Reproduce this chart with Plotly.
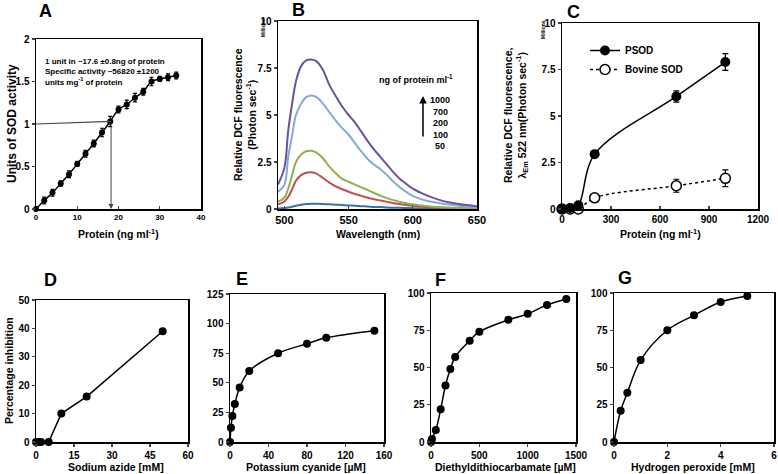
import plotly.graph_objects as go

W, H = 778, 474
FONT = "Liberation Sans"

# ---------------- Data ----------------
# Panel A: SOD activity vs protein
a_protein = [0, 2, 4, 6, 8, 10, 12, 14, 16, 18, 20, 22, 24, 26, 28, 30, 32, 34]
a_units = [0, 0.10, 0.19, 0.30, 0.41, 0.53, 0.65, 0.77, 0.90, 1.03, 1.17, 1.23, 1.31, 1.38, 1.50, 1.53, 1.55, 1.57]
a_err = [0.01, 0.04, 0.04, 0.03, 0.04, 0.03, 0.04, 0.04, 0.05, 0.06, 0.04, 0.05, 0.05, 0.04, 0.05, 0.03, 0.04, 0.04]
a_unit_protein = 18.2
a_unit_level = [1.0, 1.03]

# Panel B: emission spectra (millions)
b_wavelength = [495, 500, 503, 506, 509, 513, 517, 521, 525, 530, 535, 540, 545, 550, 555,
                560, 565, 570, 575, 580, 585, 590, 595, 600, 610, 620, 630, 640, 650]
b_1000 = [1.3, 2.2, 4.2, 5.6, 6.8, 7.6, 7.9, 7.95, 7.85, 7.4, 6.6, 6.0, 5.45, 5.0, 4.6,
          4.1, 3.6, 3.15, 2.75, 2.35, 1.95, 1.6, 1.33, 1.08, 0.75, 0.5, 0.33, 0.22, 0.15]
b_700 = [0.9, 1.3, 2.8, 3.9, 5.0, 5.6, 5.95, 6.04, 5.95, 5.6, 5.15, 4.7, 4.3, 3.95, 3.5,
         3.05, 2.65, 2.35, 2.1, 1.8, 1.45, 1.15, 0.9, 0.7, 0.45, 0.32, 0.22, 0.15, 0.1]
b_200 = [0.4, 0.6, 1.1, 1.8, 2.5, 2.9, 3.07, 3.1, 3.0, 2.7, 2.25, 1.9, 1.6, 1.45, 1.3,
         1.15, 1.0, 0.85, 0.7, 0.58, 0.47, 0.38, 0.31, 0.25, 0.16, 0.1, 0.07, 0.05, 0.04]
b_100 = [0.25, 0.4, 0.65, 1.05, 1.5, 1.8, 1.93, 1.95, 1.88, 1.65, 1.4, 1.2, 1.05, 0.92, 0.8,
         0.7, 0.6, 0.52, 0.45, 0.38, 0.31, 0.26, 0.21, 0.17, 0.11, 0.07, 0.05, 0.03, 0.02]
b_50 = [0.02, 0.05, 0.08, 0.12, 0.17, 0.22, 0.26, 0.28, 0.28, 0.27, 0.25, 0.23, 0.21, 0.19, 0.17,
        0.15, 0.13, 0.11, 0.1, 0.08, 0.07, 0.06, 0.05, 0.04, 0.03, 0.02, 0.02, 0.01, 0.01]
b_series = [("50", b_50, "#3D6FB0"), ("100", b_100, "#C0504D"), ("200", b_200, "#8FB04E"),
            ("700", b_700, "#84AADB"), ("1000", b_1000, "#6A539E")]
b_labels = ["1000", "700", "200", "100", "50"]

# Panel C: fluorescence at 522 nm vs protein (millions)
c_protein = [0, 50, 100, 200, 700, 1000]
c_psod = [0, 0.05, 0.2, 2.95, 6.05, 7.9]
c_psod_err = [0, 0, 0, 0.05, 0.3, 0.45]
c_bovine = [0, 0, 0, 0.6, 1.25, 1.65]
c_bovine_err = [0, 0, 0, 0.1, 0.35, 0.45]

# Panels D-G: inhibition
d_azide = [0, 1, 2, 5, 10, 20, 50]
d_inh = [0, 0, 0, 0, 10, 16, 39]
e_kcn = [0, 1, 2.5, 5, 10, 20, 50, 80, 100, 150]
e_inh = [0, 12, 22, 32, 46, 60, 75, 83, 88, 94]
f_ddc = [0, 10, 50, 100, 150, 200, 250, 400, 500, 800, 1000, 1200, 1400]
f_inh = [0, 2, 8, 22, 38, 49, 57, 68, 74, 82, 86, 92, 96]
g_h2o2 = [0, 0.25, 0.5, 1, 2, 3, 4, 5]
g_inh = [0, 21, 33, 55, 75, 85, 94, 98]


def px(x):
    return x / W


def py(y):
    return 1 - y / H


fig = go.Figure()
layout = dict(width=W, height=H, margin=dict(l=0, r=0, t=0, b=0, pad=0, autoexpand=False),
              autosize=False, paper_bgcolor="white", plot_bgcolor="white",
              font=dict(family=FONT, color="black"), showlegend=True)


def tf(size):
    return dict(family=FONT, size=size, color="black", weight="bold")


def axes(i, xpx, ypx, xr, yr, xt, yt, ytext=None, xfont=10, yfont=10, xticks="outside"):
    sx = "" if i == 1 else str(i)
    layout["xaxis" + sx] = dict(domain=[px(xpx[0]), px(xpx[1])], range=xr, anchor="y" + sx,
                                tickvals=xt, ticks=xticks, ticklen=3, tickwidth=1.2,
                                showline=True, linewidth=1.5, linecolor="black", mirror=True,
                                showgrid=False, zeroline=False, tickfont=tf(xfont), fixedrange=True,
                                automargin=False)
    yd = dict(domain=[py(ypx[1]), py(ypx[0])], range=yr, anchor="x" + sx,
              tickvals=yt, ticks="outside", ticklen=3, tickwidth=1.2,
              showline=True, linewidth=1.5, linecolor="black", mirror=True,
              showgrid=False, zeroline=False, tickfont=tf(yfont), fixedrange=True,
              automargin=False)
    if ytext:
        yd["ticktext"] = ytext
    layout["yaxis" + sx] = yd
    return "x" + sx, "y" + sx


# A
xa, ya = axes(1, (36, 201), (39, 209), [0, 40], [0, 2], [0, 10, 20, 30, 40],
              [0, 0.5, 1, 1.5, 2], ["0", "0.5", "1", "1.5", "2"], xfont=8, yfont=10, xticks="inside")
fig.add_trace(go.Scatter(x=a_protein, y=a_units, mode="lines+markers", xaxis=xa, yaxis=ya,
                         line=dict(color="black", width=1.5, shape="spline"),
                         marker=dict(color="black", size=6),
                         error_y=dict(type="data", array=a_err, color="black", thickness=1.2, width=2),
                         cliponaxis=False, showlegend=False))
# B
xb, yb = axes(2, (278, 477), (21, 209), [495, 650], [0, 10], [500, 550, 600, 650],
              [0, 2.5, 5, 7.5, 10], ["0", "2.5", "5", "7.5", "10"], xfont=11, yfont=10, xticks="inside")
for name, vals, col in b_series:
    fig.add_trace(go.Scatter(x=b_wavelength, y=vals, mode="lines", xaxis=xb, yaxis=yb,
                             line=dict(color=col, width=2, shape="spline"), showlegend=False))
# C
xc, yc = axes(3, (562, 758), (23, 209), [0, 1200], [0, 10], [0, 300, 600, 900, 1200],
              [0, 2.5, 5, 7.5, 10], ["0", "2.5", "5", "7.5", "10"], xticks="inside")
fig.add_trace(go.Scatter(x=c_protein, y=c_bovine, mode="lines+markers", xaxis=xc, yaxis=yc,
                         name="Bovine SOD", legendrank=2,
                         line=dict(color="black", width=1.5, dash="dot", shape="spline"),
                         marker=dict(color="white", size=10, line=dict(color="black", width=1.5)),
                         error_y=dict(type="data", array=c_bovine_err, color="black", thickness=1.2, width=3),
                         cliponaxis=False))
fig.add_trace(go.Scatter(x=c_protein, y=c_psod, mode="lines+markers", xaxis=xc, yaxis=yc,
                         name="PSOD", legendrank=1,
                         line=dict(color="black", width=1.5, shape="spline"),
                         marker=dict(color="black", size=10),
                         error_y=dict(type="data", array=c_psod_err, color="black", thickness=1.2, width=3),
                         cliponaxis=False))
# D
xd, yd = axes(4, (36, 188), (300, 442), [0, 60], [0, 50], [0, 15, 30, 45, 60], [0, 10, 20, 30, 40, 50])
fig.add_trace(go.Scatter(x=d_azide, y=d_inh, mode="lines+markers", xaxis=xd, yaxis=yd,
                         line=dict(color="black", width=1.5), marker=dict(color="black", size=8),
                         cliponaxis=False, showlegend=False))
# E
xe, ye = axes(5, (230, 384), (294, 442), [0, 160], [0, 125], [0, 40, 80, 120, 160], [0, 25, 50, 75, 100, 125])
fig.add_trace(go.Scatter(x=e_kcn, y=e_inh, mode="lines+markers", xaxis=xe, yaxis=ye,
                         line=dict(color="black", width=1.5, shape="spline"), marker=dict(color="black", size=8),
                         cliponaxis=False, showlegend=False))
# F
xf, yf = axes(6, (431, 576), (293, 442), [0, 1500], [0, 100], [0, 500, 1000, 1500], [0, 25, 50, 75, 100])
fig.add_trace(go.Scatter(x=f_ddc, y=f_inh, mode="lines+markers", xaxis=xf, yaxis=yf,
                         line=dict(color="black", width=1.5, shape="spline"), marker=dict(color="black", size=8),
                         cliponaxis=False, showlegend=False))
# G
xg, yg = axes(7, (614, 774), (293, 442), [0, 6], [0, 100], [0, 2, 4, 6], [0, 25, 50, 75, 100])
fig.add_trace(go.Scatter(x=g_h2o2, y=g_inh, mode="lines+markers", xaxis=xg, yaxis=yg,
                         line=dict(color="black", width=1.5, shape="spline"), marker=dict(color="black", size=8),
                         cliponaxis=False, showlegend=False))

layout["legend"] = dict(x=px(585), y=py(36), xanchor="left", yanchor="top",
                        bgcolor="rgba(0,0,0,0)", font=dict(family=FONT, size=10, weight="bold"),
                        itemwidth=30, tracegroupgap=0, traceorder="normal")

ann = []


def text(xp, yp, s, size=10.5, angle=0, xanchor="center", yanchor="middle", align="center"):
    ann.append(dict(x=px(xp), y=py(yp), xref="paper", yref="paper", text=s, showarrow=False,
                    textangle=angle, xanchor=xanchor, yanchor=yanchor, align=align,
                    font=dict(family=FONT, size=size, color="black", weight="bold")))


# panel letters
for lab, xp, yp in [("A", 45, 11), ("B", 298, 10), ("C", 573, 12), ("D", 50, 280),
                    ("E", 242, 279), ("F", 440, 280), ("G", 625, 278)]:
    text(xp, yp, lab, size=18)

# axis titles
text(118, 234, "Protein (ng ml<sup>-1</sup>)")
text(378, 234, "Wavelength (nm)")
text(660, 234, "Protein (ng ml<sup>-1</sup>)")
text(12, 124, "Units of SOD activity", size=12, angle=-90)
text(245, 115, "Relative DCF fluorescence<br>(Photon sec<sup>-1</sup>)", angle=-90)
text(516, 116, "Relative DCF fluorescence,<br>λ<sub>Em</sub> 522 nm(Photon sec<sup>-1</sup>)", angle=-90)
text(9, 371, "Percentage inhibition", angle=-90)
text(116, 467, "Sodium azide [mM]")
text(306, 467, "Potassium cyanide [µM]")
text(505, 467, "Diethyldithiocarbamate [µM]")
text(693, 467, "Hydrogen peroxide [mM]")
text(263, 28, "Millions", size=5, angle=-90)
text(543, 30, "Millions", size=5, angle=-90)

# A annotation
text(43, 55, "1 unit in ~17.6 ±0.8ng of protein<br>Specific activity ~56820 ±1200<br>units mg<sup>-1</sup> of protein",
     size=8, xanchor="left", yanchor="top", align="left")

# B legend text
text(416, 79, "ng of protein ml<sup>-1</sup>", size=9)
for k, lab in enumerate(b_labels):
    text(440, 100 + k * 11.5, lab, size=9)
ann.append(dict(x=px(423), y=py(96), xref="paper", yref="paper", ax=0, ay=42, text="",
                showarrow=True, arrowhead=2, arrowsize=1, arrowwidth=1.5, arrowcolor="black"))

# A drop lines
ann.append(dict(x=a_unit_protein, y=0, xref=xa, yref=ya, ax=a_unit_protein, ay=a_unit_level[1],
                axref=xa, ayref=ya, text="", showarrow=True, arrowhead=2, arrowsize=1,
                arrowwidth=1, arrowcolor="#444"))
layout["shapes"] = [dict(type="line", xref=xa, yref=ya, x0=0, y0=a_unit_level[0],
                         x1=a_unit_protein, y1=a_unit_level[1], line=dict(color="#444", width=1.2))]
layout["annotations"] = ann

fig.update_layout(**layout)
fig.write_html("out.html", config={"displayModeBar": False, "staticPlot": True},
               post_script="document.body.style.margin='0px';document.body.style.overflow='hidden';"
                           "document.documentElement.style.overflow='hidden';")
